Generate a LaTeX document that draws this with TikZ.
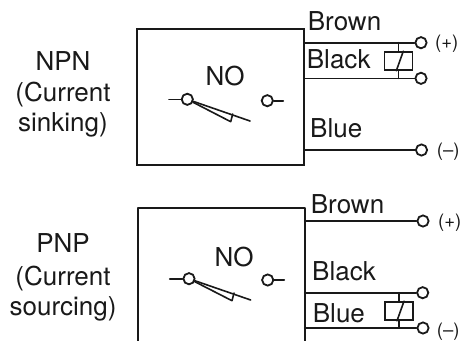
\documentclass[tikz,border=0pt]{standalone}
\usepackage{fontspec}
\setmainfont{TeX Gyre Heros}
\begin{document}
\begin{tikzpicture}[x=1pt,y=-1pt,
  wire/.style={line width=1.6pt,line cap=round,line join=round,color=black!90},
  term/.style={circle,draw=black!90,line width=1.8pt,inner sep=0pt,minimum size=11.2pt,fill=white},
  relay/.style={rectangle,draw=black!90,line width=1.6pt,inner sep=0pt,fill=white,minimum width=28pt,minimum height=18pt},
  sensor/.style={rectangle,draw=black!90,line width=1.6pt,inner sep=0pt,minimum width=167pt,minimum height=136.5pt},
  lab/.style={anchor=base west,inner sep=0pt,font=\fontsize{26}{26}\selectfont,text=black!90},
  cen/.style={anchor=base,inner sep=0pt,font=\fontsize{26}{26}\selectfont,text=black!90},
  pol/.style={anchor=base west,inner sep=0pt,font=\fontsize{18.5}{18.5}\selectfont,text=black!90}]
\useasboundingbox (0,0) rectangle (460,341);
% side titles
\node[cen] (t1) at (63,70) {NPN};
\node[cen] (t2) at (63,101) {(Current};
\node[cen] (t3) at (63,131) {sinking)};
\node[cen] (t4) at (63,252) {PNP};
\node[cen] (t5) at (63,285.5) {(Current};
\node[cen] (t6) at (63,315) {sourcing)};
% ---- NPN ----
\node[sensor] (boxA) at (220.5,97) {};
\coordinate (aBr) at (boxA.east |- 0,42.7);
\coordinate (aBk) at (boxA.east |- 0,78.3);
\coordinate (aBl) at (boxA.east |- 0,150);
\node[term] (tA1) at (421,42.7) {};
\node[term] (tA2) at (421,78.3) {};
\node[term] (tA3) at (421.5,150) {};
\draw[wire] (aBr) -- (tA1);
\draw[wire] (aBk) -- (tA2);
\draw[wire] (aBl) -- (tA3);
\node[relay] (rA) at (398.3,61) {};
\coordinate (rAtop) at (rA.north |- aBr);
\coordinate (rAbot) at (rA.south |- aBk);
\draw[wire] (rAtop) -- (rA.north);
\draw[wire] (rA.south) -- (rAbot);
\draw[wire] ([xshift=-2pt]rA.south) -- ([xshift=5pt]rA.north);
\node[lab] (lA1) at (307.7,30.7) {Brown};
\node[lab] (lA2) at (306.7,68.3) {Black};
\node[lab] (lA3) at (310,137.3) {Blue};
\node[cen] (lA4) at (225,85) {NO};
\node[pol] (pA1) at (435,48) {(+)};
\node[pol] (pA2) at (436.7,156) {(–)};
\node[term] (sA1) at (187.3,99.3) {};
\node[term] (sA2) at (267.3,100.7) {};
\coordinate (sA1s) at (169,99.3);
\coordinate (sA2s) at (283.3,100.7);
\coordinate (bA1) at (250,121);
\coordinate (bA2) at (230.7,121.7);
\coordinate (bA3) at (232.7,114);
\draw[wire] (sA1s) -- (sA1);
\draw[wire] (sA2) -- (sA2s);
\draw[wire] (sA1) -- (bA1);
\draw[wire] (sA1) -- (bA2) -- (bA3);
% ---- PNP ----
\coordinate (bSW) at (138,340.5);
\coordinate (bNW) at (138,208);
\coordinate (bNE) at (304.7,208);
\coordinate (bSE) at (304.7,340.5);
\draw[wire,line cap=butt] (bSW) -- (bNW) -- (bNE) -- (bSE);
\coordinate (cBr) at (304.7,221);
\coordinate (cBk) at (304.7,292.7);
\coordinate (cBl) at (304.7,328);
\node[term] (tC1) at (423,221) {};
\node[term] (tC2) at (422.7,292.7) {};
\node[term] (tC3) at (423,328) {};
\draw[wire] (cBr) -- (tC1);
\draw[wire] (cBk) -- (tC2);
\draw[wire] (cBl) -- (tC3);
\node[relay] (rC) at (399,311) {};
\coordinate (rCtop) at (rC.north |- cBk);
\coordinate (rCbot) at (rC.south |- cBl);
\draw[wire] (rCtop) -- (rC.north);
\draw[wire] (rC.south) -- (rCbot);
\draw[wire] ([xshift=-2pt]rC.south) -- ([xshift=5pt]rC.north);
\node[lab] (lC1) at (310.7,213.3) {Brown};
\node[lab] (lC2) at (312,280.7) {Black};
\node[lab] (lC3) at (312.7,322.7) {Blue};
\node[cen] (lC4) at (234,266) {NO};
\node[pol] (pC1) at (438,227.7) {(+)};
\node[pol] (pC2) at (436.7,336) {(–)};
\node[term] (sC1) at (189,278.7) {};
\node[term] (sC2) at (267.7,280) {};
\coordinate (sC1s) at (169.7,278.7);
\coordinate (sC2s) at (284.3,280);
\coordinate (bC1) at (250.7,300);
\coordinate (bC2) at (232,300.7);
\coordinate (bC3) at (234,293);
\draw[wire] (sC1s) -- (sC1);
\draw[wire] (sC2) -- (sC2s);
\draw[wire] (sC1) -- (bC1);
\draw[wire] (sC1) -- (bC2) -- (bC3);
\end{tikzpicture}
\end{document}
